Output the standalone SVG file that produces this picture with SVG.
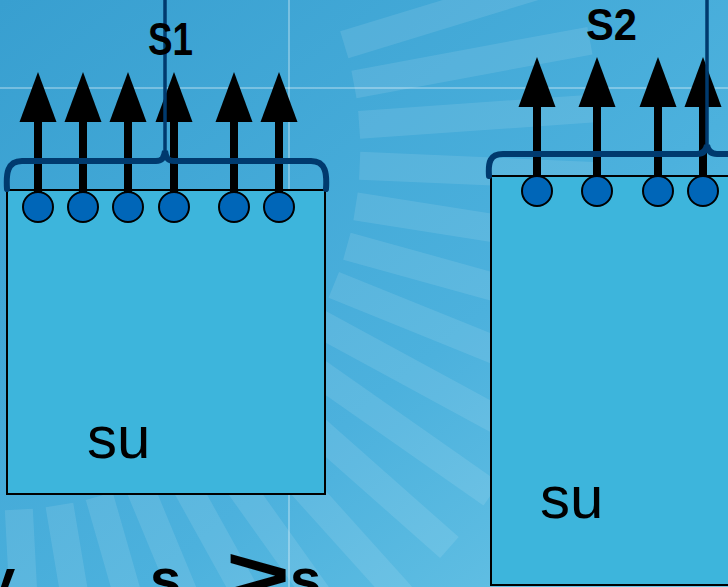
<svg xmlns="http://www.w3.org/2000/svg" width="728" height="587" viewBox="0 0 728 587">
  <defs>
    <linearGradient id="bg" x1="0" y1="0" x2="1" y2="1">
      <stop offset="0" stop-color="#389fd0"/>
      <stop offset="0.6" stop-color="#4cb1dd"/>
      <stop offset="1" stop-color="#6cc6e6"/>
    </linearGradient>
    <g id="arrow">
      <polygon points="0,0 -18.5,50 18.5,50" fill="#000"/>
      <rect x="-4" y="48" width="8" height="72" fill="#000"/>
    </g>
    <style>
      .stripe { fill: #ffffff; fill-opacity: 0.1; }
      .box { fill: #3db5dc; stroke: #000; stroke-width: 2; }
      .dot { fill: #0066b8; stroke: #000; stroke-width: 2; }
      .brace { fill: none; stroke: #003a6e; stroke-width: 6; stroke-linecap: round; }
      .stem { fill: none; stroke: #003a6e; stroke-width: 3.5; }
      .lbl { font-family: "Liberation Sans", Arial, sans-serif; font-weight: bold; fill: #000; }
      .su { font-family: "Liberation Sans", Arial, sans-serif; font-size: 60px; fill: #000; }
      .guide { stroke: #ffffff; stroke-opacity: 0.3; stroke-width: 2; }
    </style>
  </defs>

  <!-- background -->
  <rect width="728" height="587" fill="url(#bg)"/>
  <g id="stripes" transform="translate(0,150)">
    <rect class="stripe" x="360" y="-14" width="240" height="28" transform="rotate(-17)"/>
    <rect class="stripe" x="360" y="-14" width="240" height="28" transform="rotate(-10.5)"/>
    <rect class="stripe" x="360" y="-14" width="240" height="28" transform="rotate(-4)"/>
    <rect class="stripe" x="360" y="-14" width="240" height="28" transform="rotate(2.5)"/>
    <rect class="stripe" x="360" y="-14" width="240" height="28" transform="rotate(9)"/>
    <rect class="stripe" x="360" y="-14" width="240" height="28" transform="rotate(15.5)"/>
    <rect class="stripe" x="360" y="-14" width="240" height="28" transform="rotate(22)"/>
    <rect class="stripe" x="360" y="-14" width="240" height="28" transform="rotate(28.5)"/>
    <rect class="stripe" x="360" y="-14" width="240" height="28" transform="rotate(35)"/>
    <rect class="stripe" x="360" y="-14" width="240" height="28" transform="rotate(41.5)"/>
    <rect class="stripe" x="360" y="-14" width="240" height="28" transform="rotate(48)"/>
    <rect class="stripe" x="360" y="-14" width="240" height="28" transform="rotate(54.5)"/>
    <rect class="stripe" x="360" y="-14" width="240" height="28" transform="rotate(61)"/>
    <rect class="stripe" x="360" y="-14" width="240" height="28" transform="rotate(67.5)"/>
    <rect class="stripe" x="360" y="-14" width="240" height="28" transform="rotate(74)"/>
    <rect class="stripe" x="360" y="-14" width="240" height="28" transform="rotate(80.5)"/>
    <rect class="stripe" x="360" y="-14" width="240" height="28" transform="rotate(87)"/>
  </g>
  <line class="guide" x1="0" y1="88" x2="728" y2="88"/>
  <line class="guide" x1="289" y1="0" x2="289" y2="587" stroke-width="1.5"/>

  <!-- left block -->
  <g id="block-s1">
    <rect class="box" x="7" y="190" width="318" height="304"/>
    <use href="#arrow" x="38" y="72"/>
    <use href="#arrow" x="83" y="72"/>
    <use href="#arrow" x="128" y="72"/>
    <use href="#arrow" x="174" y="72"/>
    <use href="#arrow" x="234" y="72"/>
    <use href="#arrow" x="279" y="72"/>
    <path class="stem" d="M165,0 L165,152"/>
    <path class="brace" d="M7,189 C6,174 7,161 22,161 L156,161 C162,161 164,158 165,151 C166,158 168,161 174,161 L311,161 C326,161 327,174 326,189"/>
    <circle class="dot" cx="38" cy="207" r="15"/>
    <circle class="dot" cx="83" cy="207" r="15"/>
    <circle class="dot" cx="128" cy="207" r="15"/>
    <circle class="dot" cx="174" cy="207" r="15"/>
    <circle class="dot" cx="234" cy="207" r="15"/>
    <circle class="dot" cx="279" cy="207" r="15"/>
    <text class="lbl" x="148" y="55" font-size="46" textLength="45" lengthAdjust="spacingAndGlyphs">S1</text>
    <text class="su" x="87" y="458">su</text>
  </g>

  <!-- right block -->
  <g id="block-s2">
    <rect class="box" x="491" y="176" width="245" height="409"/>
    <use href="#arrow" x="537" y="57"/>
    <use href="#arrow" x="597" y="57"/>
    <use href="#arrow" x="658" y="57"/>
    <use href="#arrow" x="703" y="57"/>
    <path class="stem" d="M707,0 L707,146"/>
    <path class="brace" d="M489,176 C488,162 490,154 503,154 L697,154 C703,154 706,151 707,145 C708,151 711,154 717,154 L735,154"/>
    <circle class="dot" cx="537" cy="191" r="15"/>
    <circle class="dot" cx="597" cy="191" r="15"/>
    <circle class="dot" cx="658" cy="191" r="15"/>
    <circle class="dot" cx="703" cy="191" r="15"/>
    <text class="lbl" x="586" y="40" font-size="44" textLength="51" lengthAdjust="spacingAndGlyphs">S2</text>
    <text class="su" x="540" y="518">su</text>
  </g>

  <!-- bottom caption (cut off by the frame, as in the reference) -->
  <g id="caption">
    <text class="lbl" x="-16" y="598" font-size="56">v</text>
    <text class="lbl" x="150" y="598" font-size="56">s</text>
    <text class="lbl" x="226" y="602" font-size="80" textLength="64" lengthAdjust="spacingAndGlyphs">&gt;</text>
    <text class="lbl" x="290" y="598" font-size="56">s</text>
  </g>
</svg>
